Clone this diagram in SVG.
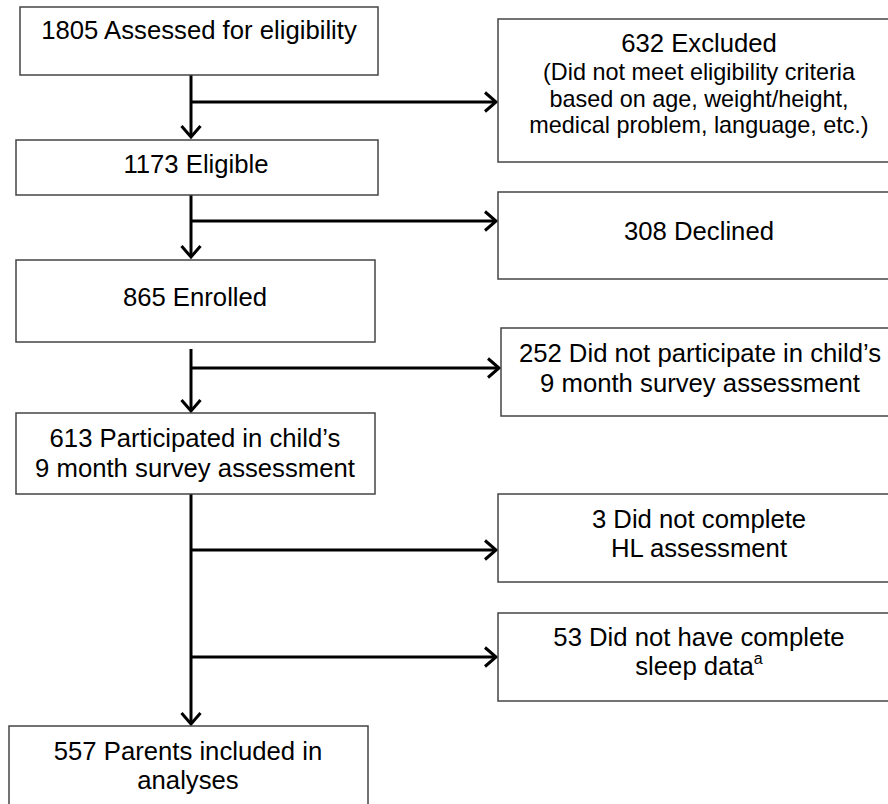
<svg xmlns="http://www.w3.org/2000/svg" width="888" height="804" viewBox="0 0 888 804">
<style>
.box{fill:#fff;stroke:#444;stroke-width:1.5}
text{font-family:"Liberation Sans",Arial,sans-serif;fill:#000;text-anchor:middle}
.m{font-size:25.7px}
.s{font-size:23.4px}
.c{stroke:#000;stroke-width:3;fill:none}
</style>
<defs>
<marker id="arr" markerUnits="userSpaceOnUse" markerWidth="30" markerHeight="30" viewBox="-15 -15 30 30" refX="0" refY="0" orient="auto" overflow="visible">
<path d="M-11,-9.5 L0,0 L-11,9.5" stroke="#000" stroke-width="3" fill="none"/>
</marker>
</defs>
<rect width="888" height="804" fill="#fff"/>
<g id="connectors">
<line class="c" x1="191" y1="75" x2="191" y2="137" marker-end="url(#arr)"/>
<line class="c" x1="191" y1="102" x2="496" y2="102" marker-end="url(#arr)"/>
<line class="c" x1="191" y1="195" x2="191" y2="257" marker-end="url(#arr)"/>
<line class="c" x1="191" y1="221" x2="496" y2="221" marker-end="url(#arr)"/>
<line class="c" x1="191" y1="349" x2="191" y2="411" marker-end="url(#arr)"/>
<line class="c" x1="191" y1="368" x2="499" y2="368" marker-end="url(#arr)"/>
<line class="c" x1="191" y1="494" x2="191" y2="724" marker-end="url(#arr)"/>
<line class="c" x1="191" y1="550" x2="496" y2="550" marker-end="url(#arr)"/>
<line class="c" x1="191" y1="657" x2="496" y2="657" marker-end="url(#arr)"/>
</g>
<g id="n1805">
<rect class="box" x="20" y="7" width="358" height="68"/>
<text class="m" x="199" y="39">1805 Assessed for eligibility</text>
</g>
<g id="n632">
<rect class="box" x="498" y="19" width="402" height="143"/>
<text class="m" x="699" y="52">632 Excluded</text>
<text class="s" x="699" y="80">(Did not meet eligibility criteria</text>
<text class="s" x="699" y="107">based on age, weight/height,</text>
<text class="s" x="699" y="133">medical problem, language, etc.)</text>
</g>
<g id="n1173">
<rect class="box" x="16" y="140" width="362" height="55"/>
<text class="m" x="196" y="173">1173 Eligible</text>
</g>
<g id="n308">
<rect class="box" x="498" y="192" width="402" height="87"/>
<text class="m" x="699" y="240">308 Declined</text>
</g>
<g id="n865">
<rect class="box" x="16" y="260" width="359" height="82"/>
<text class="m" x="195" y="306">865 Enrolled</text>
</g>
<g id="n252">
<rect class="box" x="501" y="328" width="400" height="88"/>
<text class="m" x="700" y="362">252 Did not participate in child’s</text>
<text class="m" x="700" y="392">9 month survey assessment</text>
</g>
<g id="n613">
<rect class="box" x="16" y="413" width="359" height="81"/>
<text class="m" x="195" y="447">613 Participated in child’s</text>
<text class="m" x="195" y="477">9 month survey assessment</text>
</g>
<g id="n3">
<rect class="box" x="498" y="494" width="402" height="88"/>
<text class="m" x="699" y="528">3 Did not complete</text>
<text class="m" x="699" y="557">HL assessment</text>
</g>
<g id="n53">
<rect class="box" x="498" y="613" width="402" height="88"/>
<text class="m" x="699" y="646">53 Did not have complete</text>
<text class="m" x="699" y="675">sleep data<tspan font-size="16" dy="-11">a</tspan></text>
</g>
<g id="n557">
<rect class="box" x="9" y="726" width="359" height="100"/>
<text class="m" x="188" y="760">557 Parents included in</text>
<text class="m" x="188" y="789">analyses</text>
</g>
</svg>
